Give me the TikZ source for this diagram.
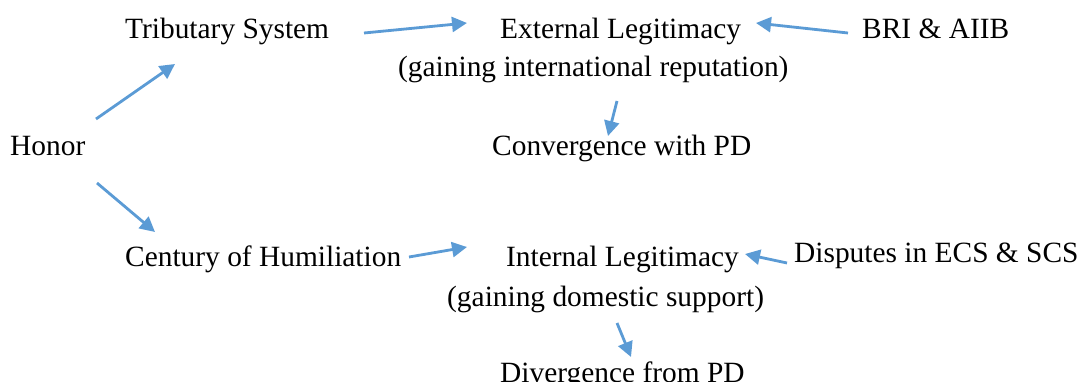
\documentclass[tikz,border=0pt]{standalone}
\usepackage{fontspec}
\setmainfont{Liberation Serif}
\usetikzlibrary{arrows.meta}
\definecolor{arrblue}{RGB}{91,155,213}
\begin{document}
\begin{tikzpicture}[x=1pt,y=1pt,
  lbl/.style={inner sep=0pt,anchor=base west,font=\fontsize{29.4}{38}\selectfont},
  arr/.style={draw=arrblue,line width=2.8pt,-{Triangle[length=15pt,width=15pt]}}]
\useasboundingbox (0,0) rectangle (1081,381);
\node[lbl] (trib) at (125,342) {Tributary System};
\node[lbl] (ext) at (500,342) {External Legitimacy};
\node[lbl] (extsub) at (398,304) {(gaining international reputation)};
\node[lbl] (bri) at (862,342) {BRI \& AIIB};
\node[lbl] (honor) at (10,226) {Honor};
\node[lbl] (conv) at (492,226) {Convergence with PD};
\node[lbl] (cent) at (125,115) {Century of Humiliation};
\node[lbl] (intl) at (506,115) {Internal Legitimacy};
\node[lbl] (intsub) at (447,75) {(gaining domestic support)};
\node[lbl] (disp) at (794,119) {Disputes in ECS \& SCS};
\node[lbl] (div) at (500,-1) {Divergence from PD};
\draw[arr] ([shift={(86,36)}]honor.base west) -- ([shift={(50,-25)}]trib.base west);
\draw[arr] ([shift={(87,-28)}]honor.base west) -- ([shift={(30,34)}]cent.base west);
\draw[arr] ([shift={(239,6)}]trib.base west) -- ([shift={(-33,16)}]ext.base west);
\draw[arr] ([shift={(-14,6)}]bri.base west) -- ([shift={(256,16)}]ext.base west);
\draw[arr] ([shift={(219,-24)}]extsub.base west) -- ([shift={(116,19)}]conv.base west);
\draw[arr] ([shift={(284,9)}]cent.base west) -- ([shift={(-39,19)}]intl.base west);
\draw[arr] ([shift={(-7,-1)}]disp.base west) -- ([shift={(239,12)}]intl.base west);
\draw[arr] ([shift={(170,-17)}]intsub.base west) -- ([shift={(131,25)}]div.base west);
\end{tikzpicture}
\end{document}
